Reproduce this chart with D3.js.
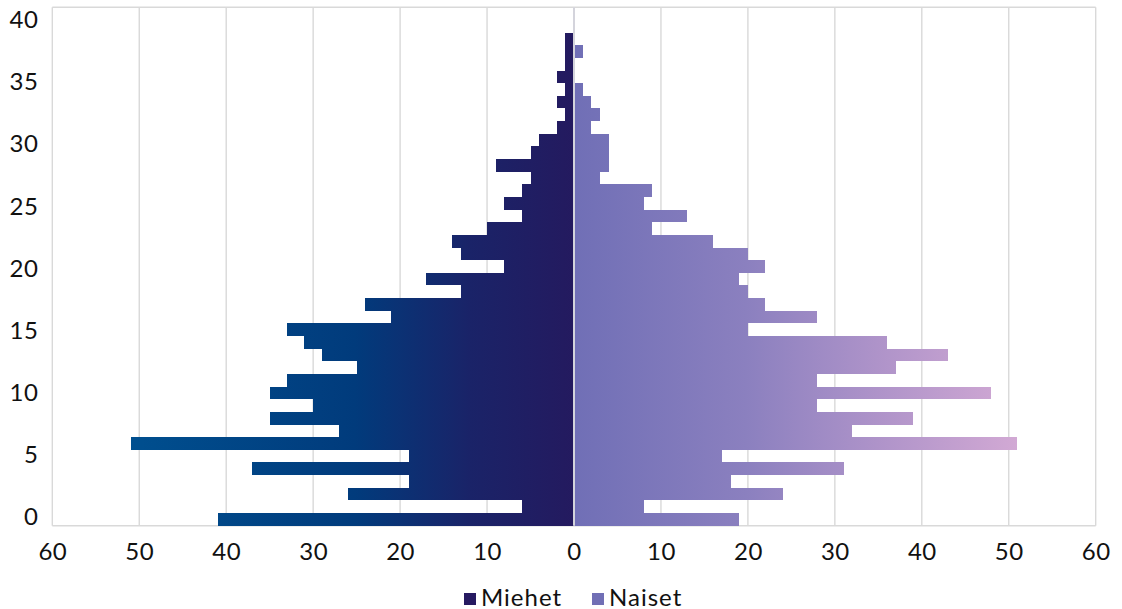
<!DOCTYPE html>
<html>
<head>
<meta charset="utf-8">
<script src="https://cdn.jsdelivr.net/npm/d3@7"></script>
<style>
  html, body { margin: 0; padding: 0; background: #fff; }
  svg text { font-family: Lato, "Open Sans", sans-serif; fill: #111; }
</style>
</head>
<body>
<svg id="chart" width="1122" height="609"></svg>
<script>
// Age groups (one bar per age) and head counts per sex
const ages = d3.range(0, 39);
const men = [41, 6, 26, 19, 37, 19, 51, 27, 35, 30, 35, 33, 25, 29, 31, 33, 21, 24, 13, 17,
             8, 13, 14, 10, 6, 8, 6, 5, 9, 5, 4, 2, 1, 2, 1, 2, 1, 1, 1];
const women = [19, 8, 24, 18, 31, 17, 51, 32, 39, 28, 48, 28, 37, 43, 36, 20, 28, 22, 20, 19,
               22, 20, 16, 9, 13, 8, 9, 3, 4, 4, 4, 2, 3, 2, 1, 0, 0, 1, 0];
const ageCategories = d3.range(0, 41);
const ageTicks = [0, 5, 10, 15, 20, 25, 30, 35, 40];
const countTicks = [0, 10, 20, 30, 40, 50, 60];
const seriesNames = ["Miehet", "Naiset"];

const svg = d3.select("#chart");
const plotLeft = 52.3, plotCenter = 574, plotRight = 1095.7, plotTop = 7.3, plotBottom = 525.7;

// one band per age for the bars; the age labels use their own evenly spaced axis
const y = d3.scaleBand().domain(ageCategories).range([plotBottom, plotTop]).padding(0);
const yLabels = d3.scaleLinear().domain([0, 40]).range([517.2, 20]);
const xMen = d3.scaleLinear().domain([0, 60]).range([plotCenter, plotLeft]);
const xWomen = d3.scaleLinear().domain([0, 60]).range([plotCenter, plotRight]);

// Horizontal colour ramps laid out over the whole half-plot
const defs = svg.append("defs");
const gMen = defs.append("linearGradient").attr("id", "gradMen")
  .attr("gradientUnits", "userSpaceOnUse")
  .attr("x1", xMen(0)).attr("x2", xMen(60)).attr("y1", 0).attr("y2", 0);
[[0, "#241a5f"], [0.2, "#1a2368"], [0.42, "#013b7c"], [0.85, "#004f8f"], [1, "#00549a"]]
  .forEach(([o, c]) => gMen.append("stop").attr("offset", o).attr("stop-color", c));
const gWomen = defs.append("linearGradient").attr("id", "gradWomen")
  .attr("gradientUnits", "userSpaceOnUse")
  .attr("x1", xWomen(0)).attr("x2", xWomen(60)).attr("y1", 0).attr("y2", 0);
[[0, "#706fb6"], [0.33, "#8b80bf"], [0.58, "#ae93c9"], [0.85, "#d2a9d4"], [1, "#dcb0da"]]
  .forEach(([o, c]) => gWomen.append("stop").attr("offset", o).attr("stop-color", c));

const gridColor = "#d9d9d9";

// Vertical gridlines for both halves
const grid = svg.append("g");
countTicks.forEach(t => {
  grid.append("line").attr("x1", xMen(t)).attr("x2", xMen(t))
    .attr("y1", plotTop).attr("y2", plotBottom).attr("stroke", gridColor).attr("stroke-width", 1.4);
  grid.append("line").attr("x1", xWomen(t)).attr("x2", xWomen(t))
    .attr("y1", plotTop).attr("y2", plotBottom).attr("stroke", gridColor).attr("stroke-width", 1.4);
});
// plot frame: top and bottom edges
grid.append("line").attr("x1", plotLeft).attr("x2", plotRight).attr("y1", plotTop).attr("y2", plotTop)
  .attr("stroke", gridColor).attr("stroke-width", 1.4);
grid.append("line").attr("x1", plotLeft).attr("x2", plotRight).attr("y1", plotBottom).attr("y2", plotBottom)
  .attr("stroke", gridColor).attr("stroke-width", 1.4);

// Bars
svg.append("g").attr("shape-rendering", "crispEdges")
  .selectAll("rect").data(ages).join("rect")
  .attr("x", a => xMen(men[a]))
  .attr("width", a => xMen(0) - xMen(men[a]))
  .attr("y", a => y(a))
  .attr("height", y.bandwidth())
  .attr("fill", "url(#gradMen)");
svg.append("g").attr("shape-rendering", "crispEdges")
  .selectAll("rect").data(ages).join("rect")
  .attr("x", xWomen(0))
  .attr("width", a => xWomen(women[a]) - xWomen(0))
  .attr("y", a => y(a))
  .attr("height", y.bandwidth())
  .attr("fill", "url(#gradWomen)");

// Centre divider between the halves
svg.append("line").attr("x1", plotCenter).attr("x2", plotCenter).attr("y1", plotTop).attr("y2", plotBottom)
  .attr("stroke", "#d4d4dc").attr("stroke-width", 2);

// Age axis
const yAxis = svg.append("g").attr("transform", `translate(${plotLeft},0)`)
  .call(d3.axisLeft(yLabels).tickValues(ageTicks).tickSize(0).tickPadding(14));
yAxis.select(".domain").remove();
yAxis.selectAll("text").style("font-size", "24px").style("letter-spacing", "0.5px");

// Count axes
const xAxisMen = svg.append("g").attr("transform", `translate(0,${plotBottom})`)
  .call(d3.axisBottom(xMen).tickValues(countTicks).tickSize(0).tickPadding(17));
const xAxisWomen = svg.append("g").attr("transform", `translate(0,${plotBottom})`)
  .call(d3.axisBottom(xWomen).tickValues(countTicks.slice(1)).tickSize(0).tickPadding(17));
[xAxisMen, xAxisWomen].forEach(ax => {
  ax.select(".domain").remove();
  ax.selectAll("text").style("font-size", "24px").style("letter-spacing", "0.5px");
});

// Legend
const legend = svg.append("g");
const legendItems = [
  { name: seriesNames[0], color: "#261a61", x: 464 },
  { name: seriesNames[1], color: "#716fb5", x: 592 }
];
legendItems.forEach(it => {
  legend.append("rect").attr("x", it.x).attr("y", 593).attr("width", 12).attr("height", 12)
    .attr("fill", it.color);
  legend.append("text").attr("x", it.x + 17).attr("y", 605.5)
    .style("font-size", "24px").style("letter-spacing", "1px").text(it.name);
});
</script>
</body>
</html>
